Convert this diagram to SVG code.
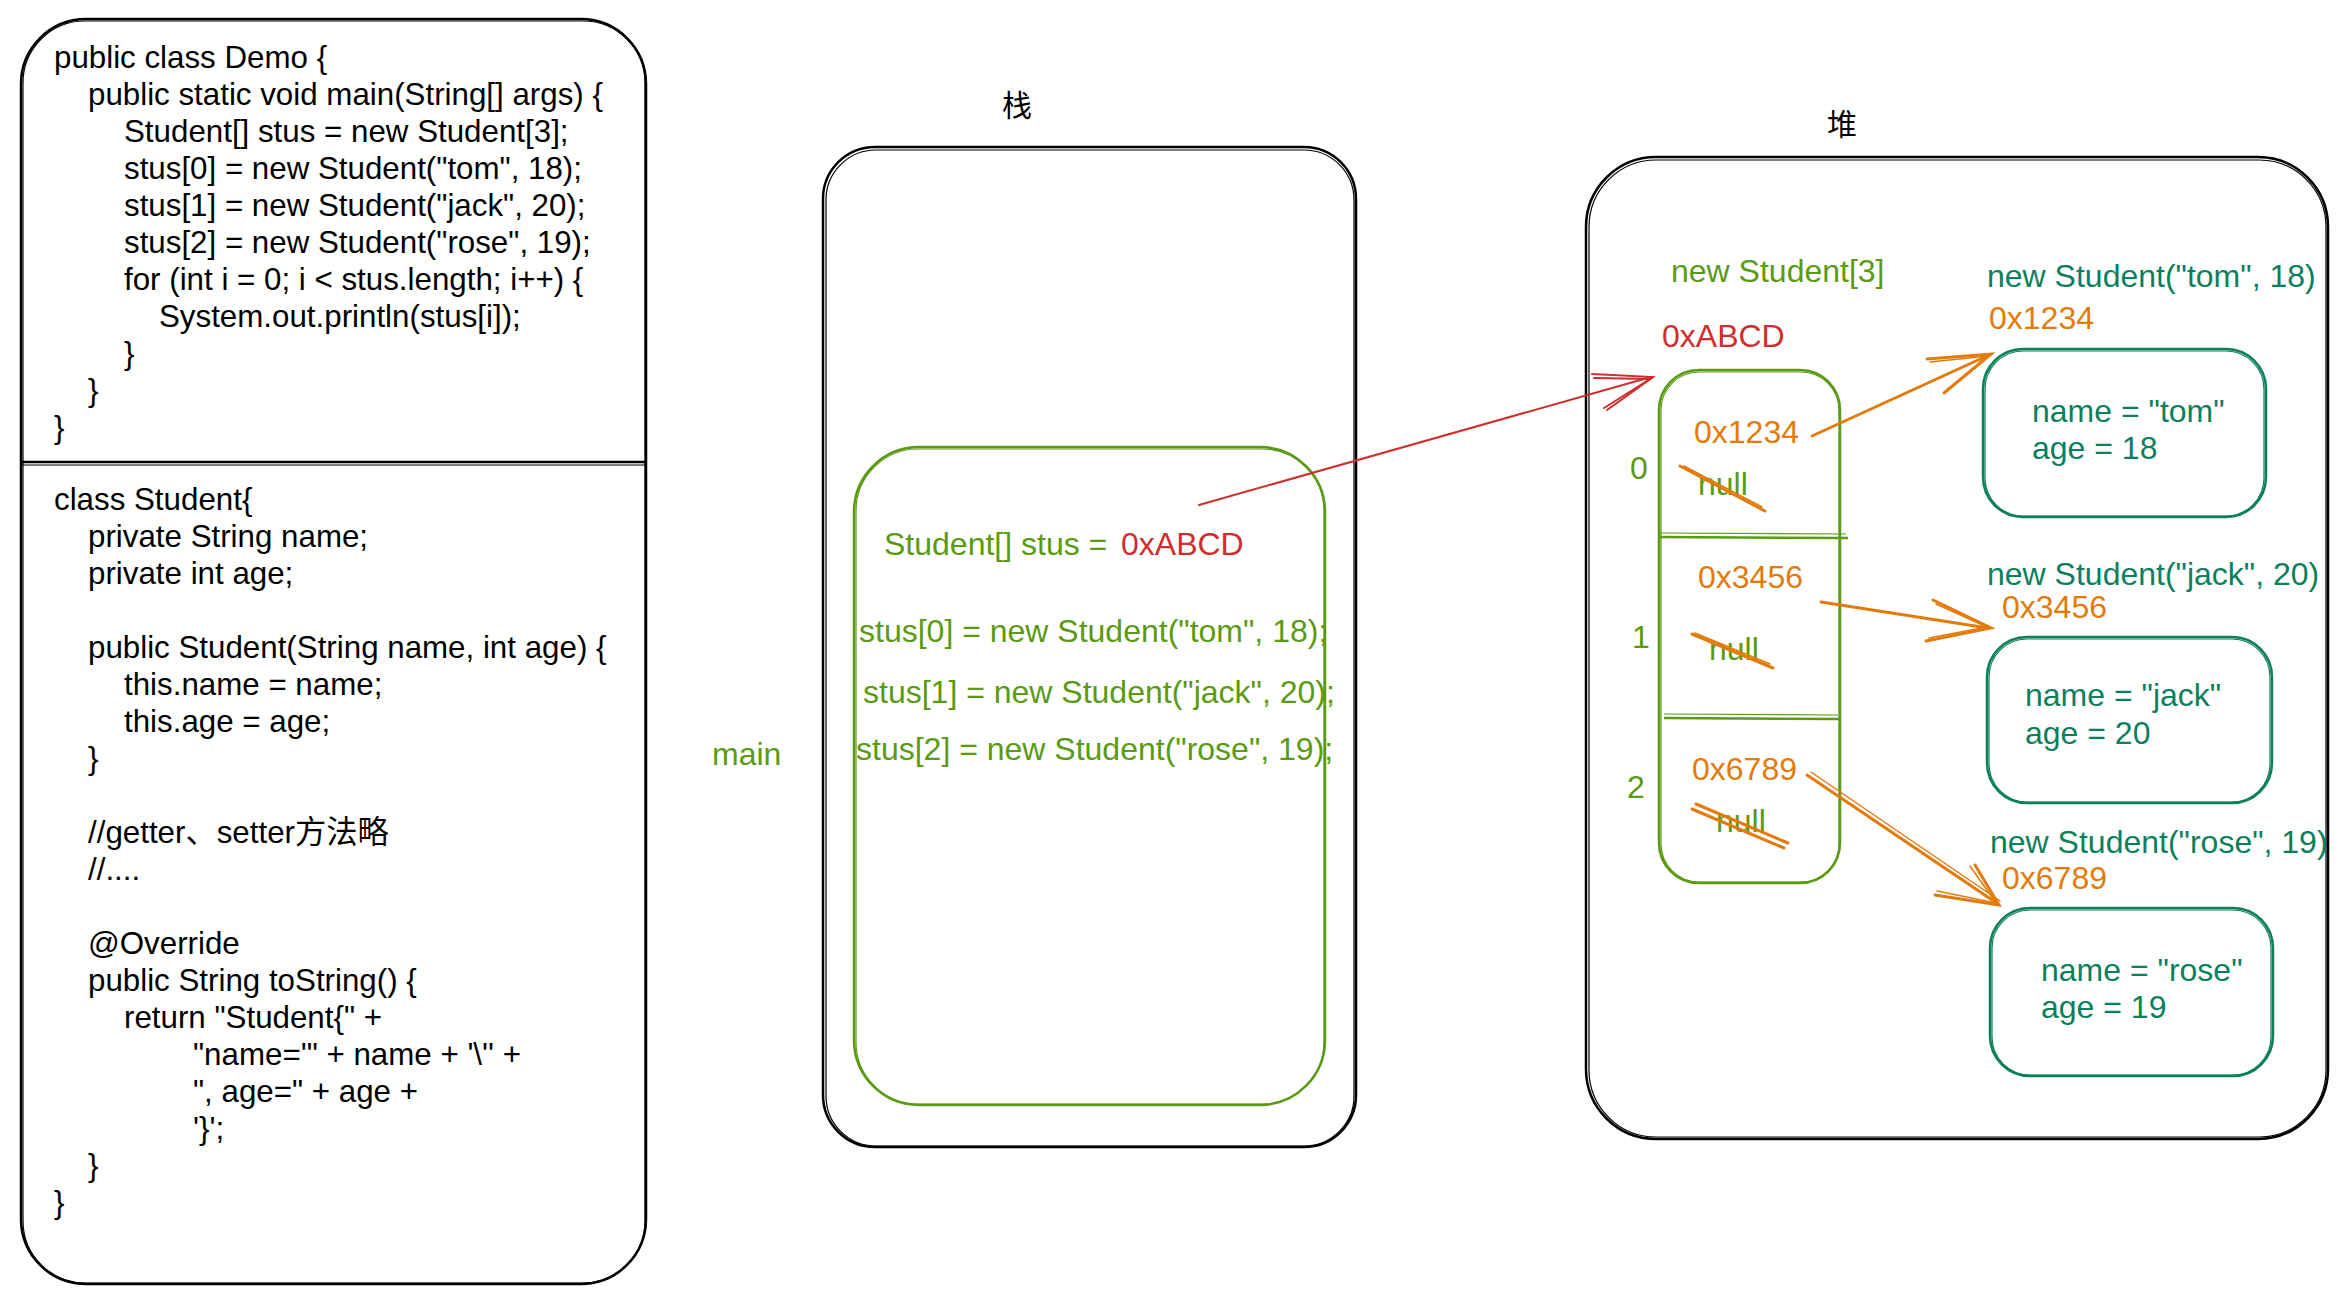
<svg xmlns="http://www.w3.org/2000/svg" width="2350" height="1304" viewBox="0 0 2350 1304">
<style>
text{font-family:"Liberation Sans",Arial,"Noto Sans CJK SC",sans-serif;}
.code{font-size:31.3px;fill:#000;}
.t{font-size:32px;}
.cjk{font-family:"Noto Sans CJK SC","Noto Sans CJK JP",sans-serif;font-size:30px;fill:#000;}
.g{fill:#5A9A14;}
.r{fill:#CF2E2E;}
.o{fill:#E27B0C;}
.tl{fill:#0C7F5C;}
.blk{fill:none;stroke:#000;stroke-width:2.5;}
.blk2{fill:none;stroke:#000;stroke-width:1.2;}
.gs{fill:none;stroke:#5A9A14;stroke-width:2.5;}
.gs2{fill:none;stroke:#5A9A14;stroke-width:1.2;}
.ts{fill:none;stroke:#0C7F5C;stroke-width:2.5;}
.ts2{fill:none;stroke:#0C7F5C;stroke-width:1.2;}
.os{fill:none;stroke:#E27B0C;stroke-width:3;stroke-linecap:round;}
.os2{fill:none;stroke:#E27B0C;stroke-width:1.5;stroke-linecap:round;}
.rs{fill:none;stroke:#CF2E2E;stroke-width:2;stroke-linecap:round;}
</style>
<rect x="0" y="0" width="2350" height="1304" fill="#fff"/>

<!-- Code box -->
<g id="code">
  <rect class="blk" x="21" y="19" width="625" height="1265" rx="65" ry="65"/>
  <rect class="blk2" x="23" y="21" width="622" height="1262" rx="62" ry="62"/>
  <line class="blk" x1="21" y1="462" x2="646" y2="462"/>
  <line class="blk2" x1="21" y1="465" x2="646" y2="465"/>
  <g class="code">
    <text x="54" y="68">public class Demo {</text>
    <text x="88" y="105">public static void main(String[] args) {</text>
    <text x="124" y="142">Student[] stus = new Student[3];</text>
    <text x="124" y="179">stus[0] = new Student("tom", 18);</text>
    <text x="124" y="216">stus[1] = new Student("jack", 20);</text>
    <text x="124" y="253">stus[2] = new Student("rose", 19);</text>
    <text x="124" y="290">for (int i = 0; i &lt; stus.length; i++) {</text>
    <text x="159" y="327">System.out.println(stus[i]);</text>
    <text x="124" y="364">}</text>
    <text x="88" y="401">}</text>
    <text x="54" y="438">}</text>

    <text x="54" y="510">class Student{</text>
    <text x="88" y="547">private String name;</text>
    <text x="88" y="584">private int age;</text>
    <text x="88" y="658">public Student(String name, int age) {</text>
    <text x="124" y="695">this.name = name;</text>
    <text x="124" y="732">this.age = age;</text>
    <text x="88" y="769">}</text>
    <text x="88" y="843">//getter、setter方法略</text>
    <text x="88" y="880">//....</text>
    <text x="88" y="954">@Override</text>
    <text x="88" y="991">public String toString() {</text>
    <text x="124" y="1028">return "Student{" +</text>
    <text x="193" y="1065">"name='" + name + '\'' +</text>
    <text x="193" y="1102">", age=" + age +</text>
    <text x="193" y="1139">'}';</text>
    <text x="88" y="1176">}</text>
    <text x="54" y="1213">}</text>
  </g>
</g>

<!-- Stack -->
<g id="stack">
  <text class="cjk" x="1017" y="116" text-anchor="middle">栈</text>
  <rect class="blk" x="823" y="147" width="533" height="1000" rx="52" ry="52"/>
  <rect class="blk2" x="826" y="150" width="528" height="996" rx="50" ry="50"/>
</g>

<g id="main-frame">
  <text class="t g" x="712" y="765">main</text>
  <rect class="gs" x="854" y="447" width="471" height="658" rx="65" ry="65"/>
  <rect class="gs2" x="856" y="449" width="468" height="655" rx="62" ry="62"/>
  <text class="t g" x="884" y="555">Student[] stus =</text>
  <text class="t r" x="1121" y="555">0xABCD</text>
  <text class="t g" x="859" y="642">stus[0] = new Student("tom", 18);</text>
  <text class="t g" x="863" y="703">stus[1] = new Student("jack", 20);</text>
  <text class="t g" x="856" y="760">stus[2] = new Student("rose", 19);</text>
</g>

<!-- Heap -->
<g id="heap">
  <text class="cjk" x="1842" y="135" text-anchor="middle">堆</text>
  <rect class="blk" x="1586" y="157" width="742" height="982" rx="70" ry="70"/>
  <rect class="blk2" x="1589" y="160" width="737" height="977" rx="67" ry="67"/>
</g>

<g id="array">
  <text class="t g" x="1671" y="282">new Student[3]</text>
  <text class="t r" x="1662" y="347">0xABCD</text>
  <rect class="gs" x="1659" y="370" width="181" height="513" rx="40" ry="40"/>
  <rect class="gs2" x="1661" y="372" width="178" height="510" rx="38" ry="38"/>
  <line class="gs" x1="1659" y1="537" x2="1848" y2="538"/>
  <line class="gs2" x1="1659" y1="533" x2="1846" y2="534"/>
  <line class="gs" x1="1664" y1="718" x2="1840" y2="719"/>
  <line class="gs2" x1="1664" y1="714" x2="1838" y2="715"/>
  <text class="t g" x="1630" y="479">0</text>
  <text class="t g" x="1632" y="648">1</text>
  <text class="t g" x="1627" y="798">2</text>
  <text class="t o" x="1694" y="443">0x1234</text>
  <text class="t g" x="1698" y="495">null</text>
  <text class="t o" x="1698" y="588">0x3456</text>
  <text class="t g" x="1709" y="660">null</text>
  <text class="t o" x="1692" y="780">0x6789</text>
  <text class="t g" x="1716" y="832">null</text>
  <line class="os" x1="1680" y1="466" x2="1765" y2="511"/>
  <line class="os2" x1="1684" y1="466" x2="1762" y2="507"/>
  <line class="os" x1="1692" y1="634" x2="1773" y2="668"/>
  <line class="os2" x1="1695" y1="633" x2="1770" y2="664"/>
  <line class="os" x1="1692" y1="809" x2="1784" y2="848"/>
  <line class="os" x1="1696" y1="804" x2="1788" y2="843"/>
</g>

<g id="tom">
  <text class="t tl" x="1987" y="287">new Student("tom", 18)</text>
  <text class="t o" x="1989" y="329">0x1234</text>
  <rect class="ts" x="1983" y="349" width="283" height="168" rx="40" ry="40"/>
  <rect class="ts2" x="1985" y="351" width="279" height="165" rx="38" ry="38"/>
  <text class="t tl" x="2032" y="422">name = "tom"</text>
  <text class="t tl" x="2032" y="459">age = 18</text>
</g>

<g id="jack">
  <text class="t tl" x="1987" y="585">new Student("jack", 20)</text>
  <text class="t o" x="2002" y="618">0x3456</text>
  <rect class="ts" x="1987" y="637" width="285" height="166" rx="40" ry="40"/>
  <rect class="ts2" x="1989" y="639" width="281" height="163" rx="38" ry="38"/>
  <text class="t tl" x="2025" y="706">name = "jack"</text>
  <text class="t tl" x="2025" y="744">age = 20</text>
</g>

<g id="rose">
  <text class="t tl" x="1990" y="853">new Student("rose", 19)</text>
  <text class="t o" x="2002" y="889">0x6789</text>
  <rect class="ts" x="1990" y="908" width="283" height="168" rx="40" ry="40"/>
  <rect class="ts2" x="1992" y="910" width="279" height="165" rx="38" ry="38"/>
  <text class="t tl" x="2041" y="981">name = "rose"</text>
  <text class="t tl" x="2041" y="1018">age = 19</text>
</g>

<!-- Connectors -->
<g id="connectors">
  <path class="rs" d="M1199 505 L1651 377"/>
  <path class="rs" d="M1592 374 L1653 377 L1607 410"/>
  <path class="rs" d="M1594 378 L1650 379 L1604 408" stroke-width="1.2"/>

  <path class="os" d="M1812 436 L1989 355"/>
  <path class="os" d="M1927 359 L1991 354 L1944 393"/>
  <path class="os2" d="M1930 362 L1988 356 L1947 390"/>

  <path class="os" d="M1821 602 L1988 628"/>
  <path class="os" d="M1933 600 L1991 628 L1926 641"/>
  <path class="os2" d="M1936 604 L1987 627 L1929 638"/>

  <path class="os" d="M1807 775 L1998 904"/>
  <path class="os2" d="M1811 772 L2000 901"/>
  <path class="os" d="M1975 865 L1999 905 L1935 895"/>
  <path class="os2" d="M1970 866 L1996 903 L1937 891"/>
</g>
</svg>
